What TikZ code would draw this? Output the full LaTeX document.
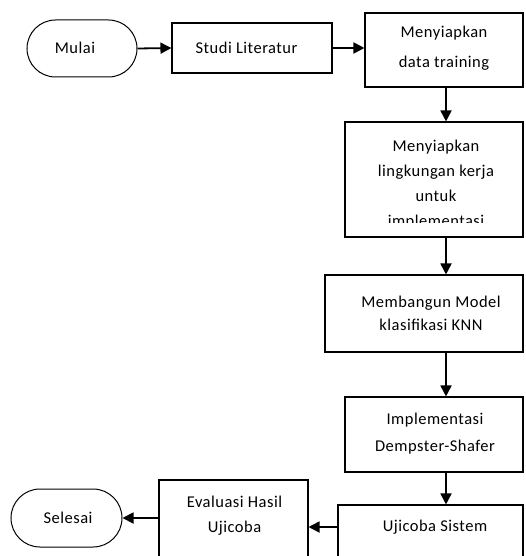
\documentclass[tikz,border=0pt]{standalone}
\usepackage{fontspec}
\usetikzlibrary{arrows.meta,shapes.misc,shadows}
\newfontfamily\lblfont{Carlito}[LetterSpace=3]
\tikzset{
  box/.style={draw=black, line width=1.1pt, fill=white, inner sep=0pt,
    drop shadow={shadow xshift=1pt, shadow yshift=-1pt, fill=black!45, opacity=1}},
  term/.style={draw=black, rounded rectangle, line width=1pt, fill=white, inner sep=0pt},
  txt/.style={font=\lblfont\fontsize{16.5}{#1}\selectfont, align=center, inner sep=0pt, text=black},
  txt/.default=19,
  arr/.style={line width=1.8pt, -{Triangle[length=11pt,width=11pt]}}
}
\begin{document}
\begin{tikzpicture}[x=1pt,y=-1pt]
\useasboundingbox (0,0) rectangle (525,556);
% shapes
\node[term, minimum width=110pt, minimum height=57pt] (mulai) at (82,48.5) {};
\node[box, minimum width=160pt, minimum height=50pt] (studi) at (252,48) {};
\node[box, minimum width=158pt, minimum height=74pt] (data) at (444,50) {};
\node[box, minimum width=178pt, minimum height=115pt] (ling) at (434,179.5) {};
\node[box, minimum width=198pt, minimum height=77pt] (memb) at (424,313.5) {};
\node[box, minimum width=178pt, minimum height=75pt] (impl) at (434,434.5) {};
\node[box, minimum width=185pt, minimum height=70pt] (uji) at (430.5,540) {};
\node[box, minimum width=149pt, minimum height=94pt] (eval) at (233.5,527) {};
\node[term, minimum width=111pt, minimum height=58pt] (selesai) at (66.5,518) {};
% texts
\node[txt] (tmulai) at (75,48) {Mulai};
\node[txt] (tstudi) at (246.5,48) {Studi Literatur};
\node[txt=30] (tdata) at (444,48) {Menyiapkan\\data training};
\begin{scope}
  \clip (ling.north west) rectangle (ling.east |- 0,222);
  \node[txt=25] (tling) at (436,185) {Menyiapkan\\lingkungan kerja\\untuk\\implementasi};
\end{scope}
\node[txt=23] (tmemb) at (431,313.5) {Membangun Model\\klasifikasi KNN};
\node[txt=27] (timpl) at (435,433.5) {Implementasi\\Dempster-Shafer};
\node[txt] (tuji) at (435,527) {Ujicoba Sistem};
\node[txt=25] (teval) at (234.5,515.5) {Evaluasi Hasil\\Ujicoba};
\node[txt] (tselesai) at (68,518) {Selesai};
% connectors
\coordinate (col) at (446,0);
\coordinate (row) at (0,527);
\draw[arr] (mulai.east) -- (studi.west);
\draw[arr] (studi.east) -- (data.west |- studi.east);
\draw[arr] (data.south -| col) -- (ling.north -| col);
\draw[arr] (ling.south -| col) -- (memb.north -| col);
\draw[arr] (memb.south -| col) -- (impl.north -| col);
\draw[arr] (impl.south -| col) -- (uji.north -| col);
\draw[arr] (uji.west |- row) -- (eval.east |- row);
\draw[arr] (eval.west |- selesai.east) -- (selesai.east);
\end{tikzpicture}
\end{document}
